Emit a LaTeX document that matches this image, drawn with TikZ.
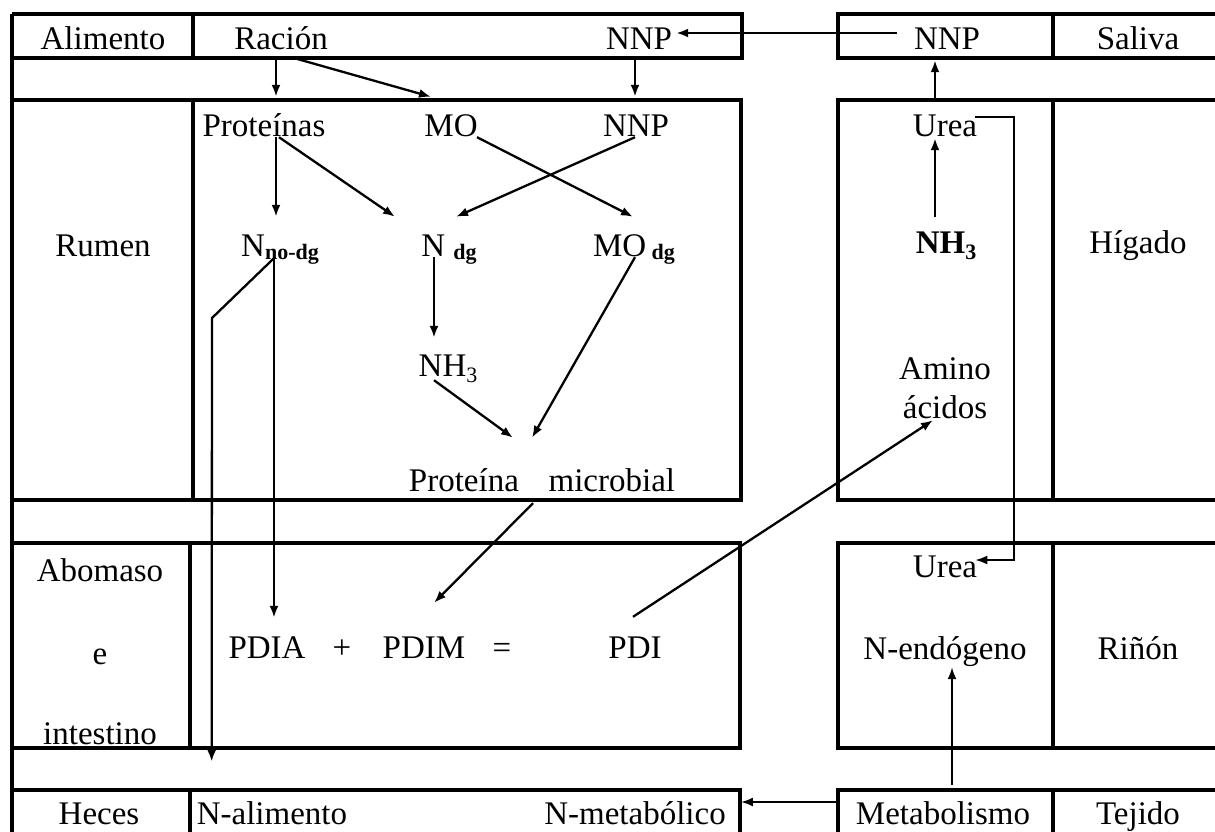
\documentclass[tikz,border=0pt]{standalone}
\usepackage{fontspec}
\setmainfont{Liberation Serif}
\usetikzlibrary{arrows.meta}
\newcommand\subtxt[1]{\raisebox{-3pt}{\fontsize{22}{22}\selectfont\bfseries #1}}
\newcommand\subdig[1]{\raisebox{-6pt}{\fontsize{22}{22}\selectfont #1}}
\begin{document}
\begin{tikzpicture}[x=1pt,y=-1pt,
  frame/.style={line width=3.2pt, line join=miter},
  conn/.style={line width=2.3pt, -{Latex[length=12pt,width=9pt]}},
  thinconn/.style={line width=2pt, -{Latex[length=12pt,width=9pt]}},
  lbl/.style={inner sep=0pt, text height=22pt, text depth=0pt, font=\fontsize{33}{40}\selectfont}]
\fill[white] (0,0) rectangle (1215,831);
\useasboundingbox (0,0) rectangle (1215,831);

% ---- frames ----
\draw[frame] (12,14) -- (12,835);
% row 1
\draw[frame] (12,14) -- (742,14) -- (742,58) -- (12,58);
\draw[frame] (193,14) -- (193,58);
\draw[frame] (1220,14) -- (838,14) -- (838,58) -- (1220,58);
\draw[frame] (1053,14) -- (1053,58);
% row 2
\draw[frame] (12,100) -- (741,100) -- (741,500) -- (12,500);
\draw[frame] (193,100) -- (193,500);
\draw[frame] (1220,100) -- (838,100) -- (838,500) -- (1220,500);
\draw[frame] (1053,100) -- (1053,500);
% row 3
\draw[frame] (12,543) -- (740,543) -- (740,748) -- (12,748);
\draw[frame] (190,543) -- (190,748);
\draw[frame] (1220,543) -- (838,543) -- (838,748) -- (1220,748);
\draw[frame] (1053,543) -- (1053,748);
% row 4
\draw[frame] (12,790) -- (740,790) -- (740,835);
\draw[frame] (190,790) -- (190,835);
\draw[frame] (838,835) -- (838,790) -- (1220,790);
\draw[frame] (1053,790) -- (1053,835);

% ---- labels ----
\node[lbl] (alimento) at (103,38) {Alimento};
\node[lbl] (racion) at (281,38) {Ración};
\node[lbl] (nnpA) at (639,38) {NNP};
\node[lbl] (nnpB) at (947,38) {NNP};
\node[lbl] (saliva) at (1138,38) {Saliva};

\node[lbl] (rumen) at (103,245) {Rumen};
\node[lbl] (prot) at (264,125) {Proteínas};
\node[lbl] (mo) at (451,125) {MO};
\node[lbl] (nnpC) at (636,125) {NNP};
\node[lbl] (nnodg) at (280,245) {N\subtxt{no-dg}};
\node[lbl] (ndg) at (449,245) {N \subtxt{dg}};
\node[lbl] (modg) at (634,245) {MO\,\subtxt{dg}};
\node[lbl] (nh3a) at (448,365) {NH\subdig{3}};
\node[lbl] (protmic) at (542,480) {Proteína\hspace{0.9em}microbial};
\node[lbl] (urea1) at (945,125) {Urea};
\node[lbl] (nh3b) at (946,242) {\bfseries NH\subdig{3}};
\node[lbl] (higado) at (1138,242) {Hígado};
\node[lbl] (amino) at (945,368) {Amino};
\node[lbl] (acidos) at (945,407) {ácidos};

\node[lbl] (abomaso) at (100,570) {Abomaso};
\node[lbl] (econj) at (100,653) {e};
\node[lbl] (intestino) at (100,733) {intestino};
\node[lbl] (pdia) at (267,647) {PDIA};
\node[lbl] (plus) at (342,647) {+};
\node[lbl] (pdim) at (424,647) {PDIM};
\node[lbl] (eq) at (502,647) {=};
\node[lbl] (pdi) at (635,647) {PDI};
\node[lbl] (urea2) at (945,566) {Urea};
\node[lbl] (nendo) at (945,648) {N-endógeno};
\node[lbl] (rinon) at (1138,648) {Riñón};

\node[lbl] (heces) at (99,813) {Heces};
\node[lbl] (nalim) at (272,813) {N-alimento};
\node[lbl] (nmetab) at (635,813) {N-metabólico};
\node[lbl] (metab) at (943,813) {Metabolismo};
\node[lbl] (tejido) at (1138,813) {Tejido};

\coordinate (bend) at (212,318);

% ---- connectors ----
\draw[conn] ([shift={(-17,-5)}]nnpB.west) -- ([shift={(4,-5)}]nnpA.east);
\draw[conn] ([shift={(-5,8)}]racion.south) -- ([shift={(12,-17)}]prot.north);
\draw[conn] ([shift={(10,8)}]racion.south) -- ([shift={(-20,-17)}]mo.north);
\draw[conn] ([shift={(-4,11)}]nnpA.south) -- ([shift={(-1,-17)}]nnpC.north);
\draw[conn] ([shift={(12,1)}]prot.south) -- ([shift={(-4,-17)}]nnodg.north);
\draw[conn] ([shift={(15,1)}]prot.south) -- ([shift={(-54,-17)}]ndg.north);
\draw[conn] ([shift={(-1,1)}]nnpC.south) -- ([shift={(7,-17)}]ndg.north);
\draw[conn] ([shift={(26,1)}]mo.south) -- ([shift={(-1,-17)}]modg.north);
\draw[conn] ([shift={(-15,1)}]ndg.south) -- ([shift={(-14,-16)}]nh3a.north);
\draw[conn] ([shift={(-14,4)}]nh3a.south) -- ([shift={(-29,-31)}]protmic.north);
\draw[conn] ([shift={(1,1)}]modg.south) -- ([shift={(-10,-31)}]protmic.north);
\draw[conn] ([shift={(-6,1)}]nnodg.south) -- ([shift={(7,-18)}]pdia.north);
\draw[conn] ([shift={(-5,1)}]nnodg.south) -- (bend) -- ([shift={(15,-40)}]nalim.north west);
\draw[conn] ([shift={(-9,12)}]protmic.south) -- ([shift={(10,-33)}]pdim.north);
\draw[conn] ([shift={(-2,-19)}]pdi.north) -- ([shift={(-12,2)}]acidos.south);
\draw[thinconn] ([shift={(-2,-8)}]urea1.east) -- ++(39,0) |- ([shift={(-2,-6)}]urea2.east);
\draw[conn] ([shift={(-11,-14)}]nh3b.north) -- ([shift={(-10,2)}]urea1.south);
\draw[conn] ([shift={(-10,-16)}]urea1.north) -- ([shift={(-12,11)}]nnpB.south);
\draw[thinconn] ([shift={(9,-17)}]metab.north) -- ([shift={(7,8)}]nendo.south);
\draw[thinconn] ([shift={(-19,-11)}]metab.west) -- ([shift={(15,-11)}]nmetab.east);
\end{tikzpicture}
\end{document}
